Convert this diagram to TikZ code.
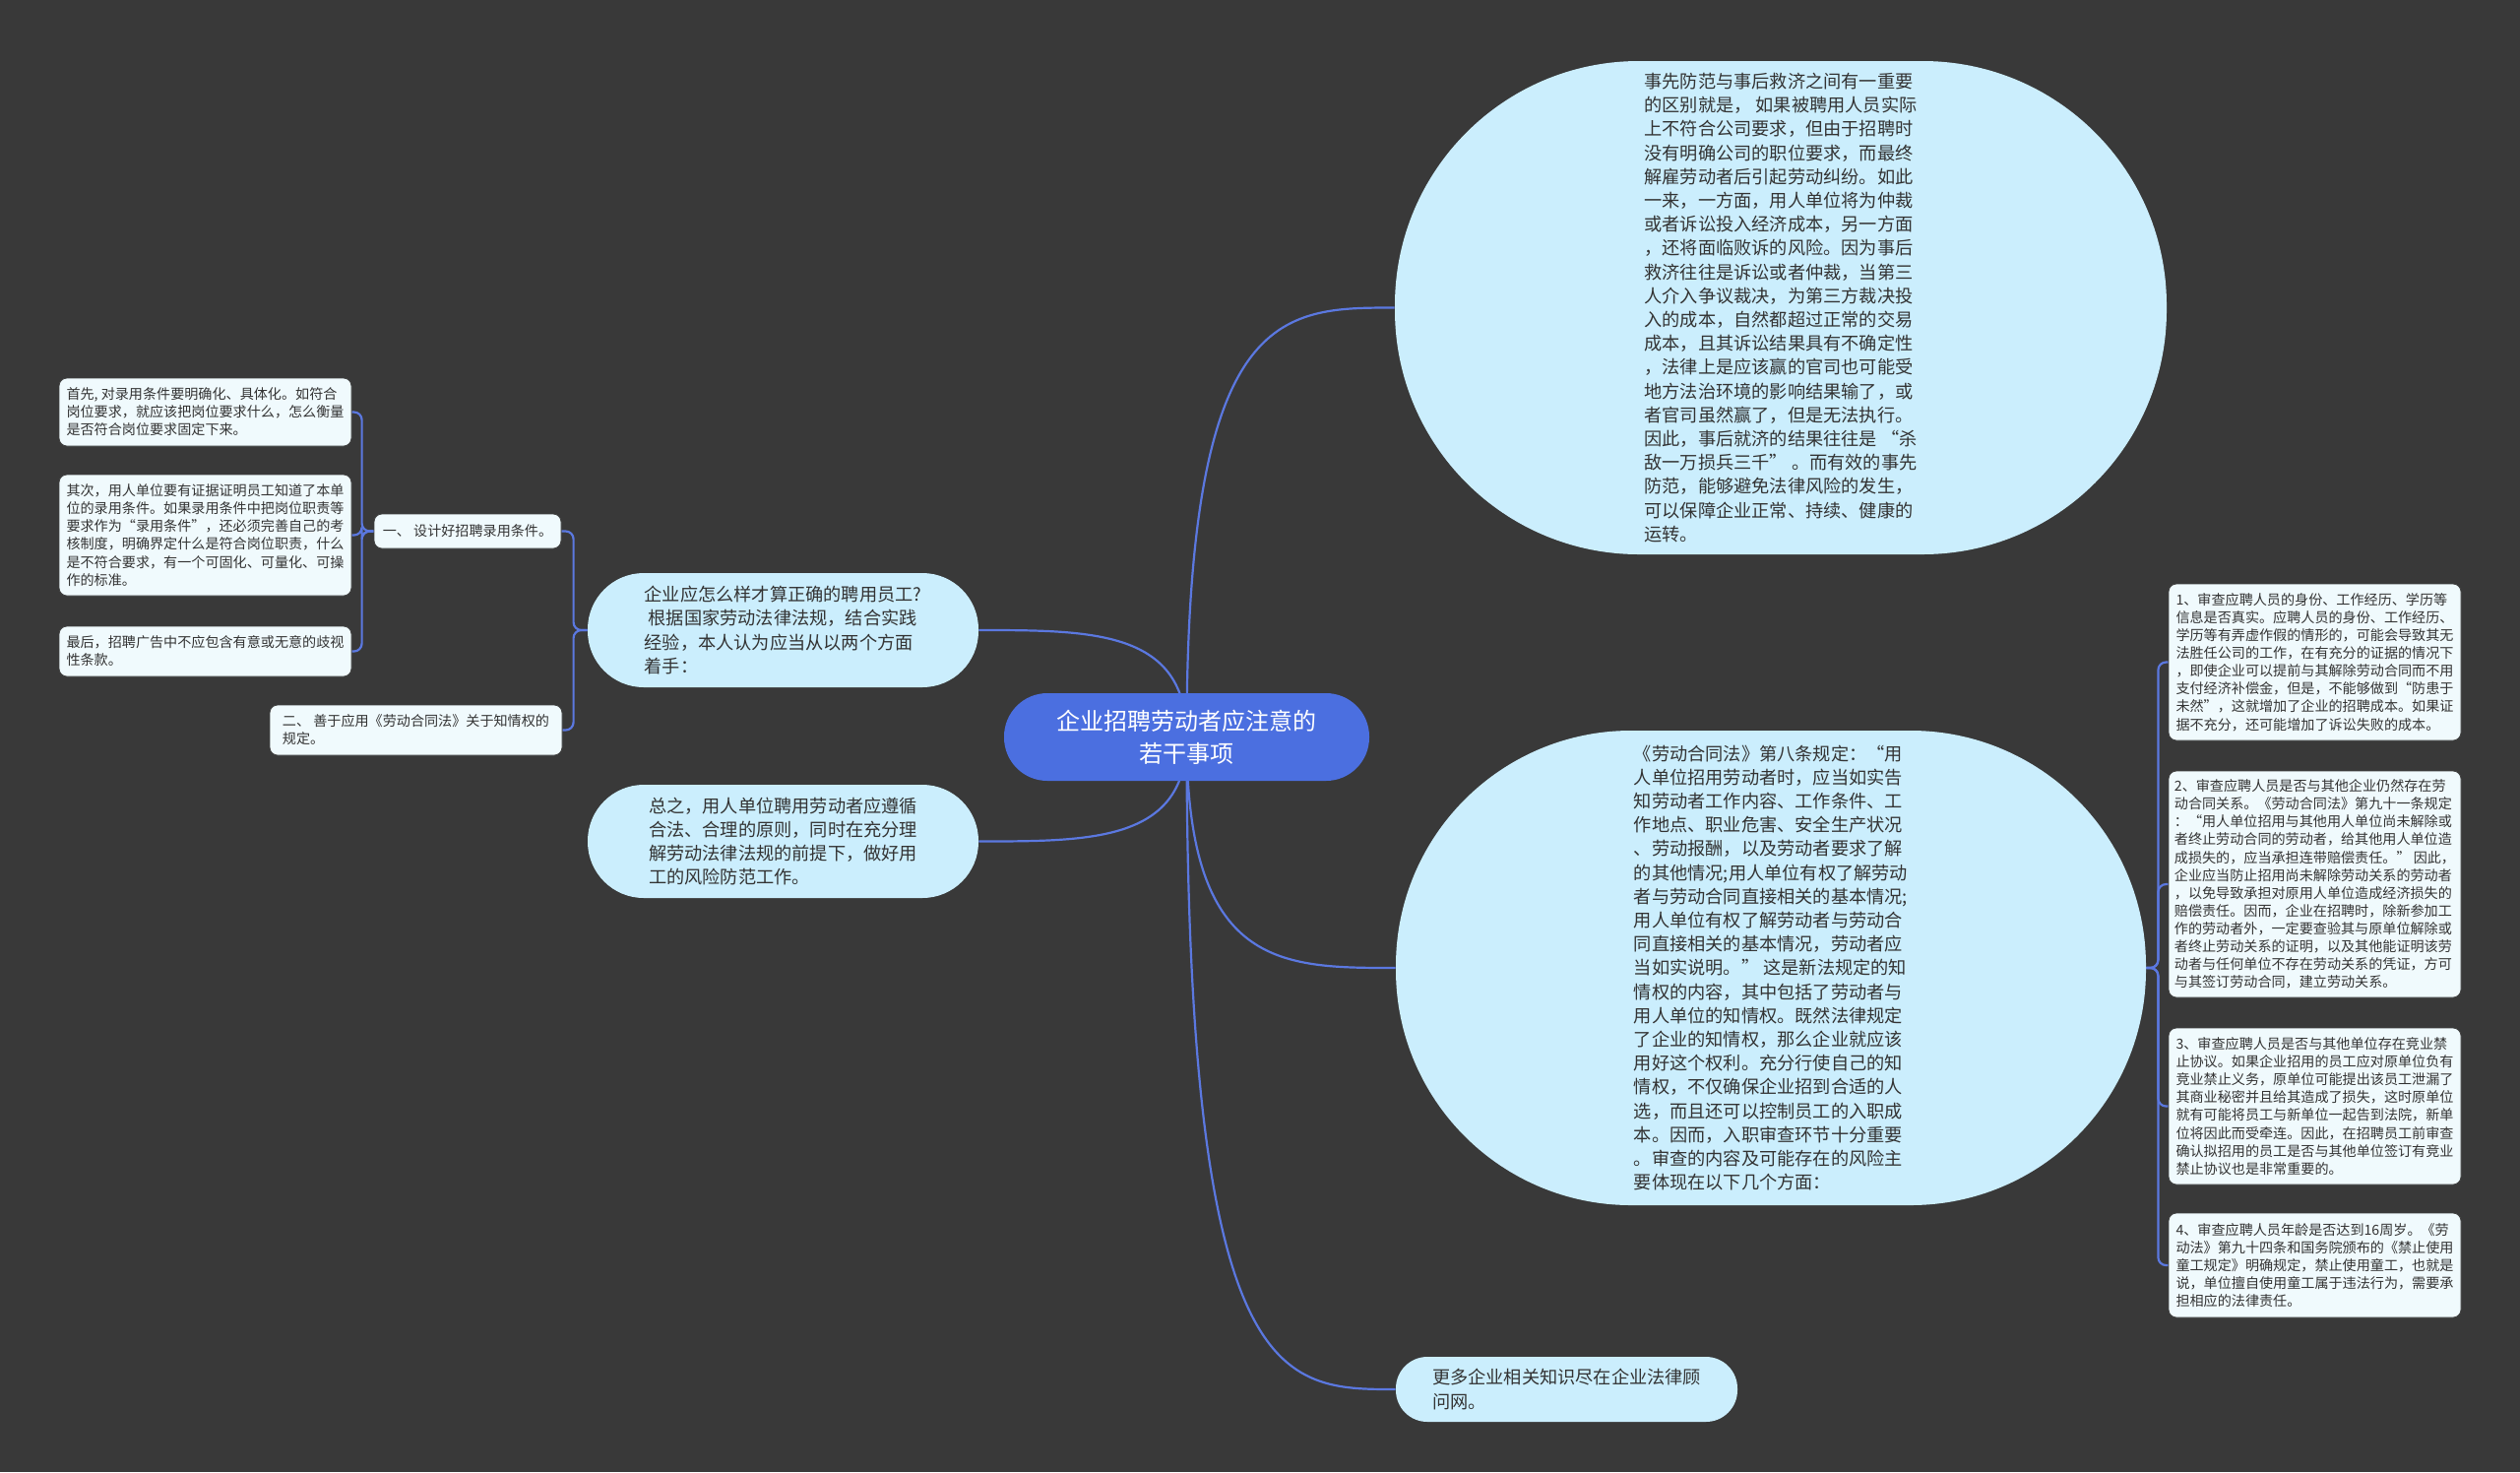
\documentclass[tikz,border=0pt]{standalone}
\usepackage{fontspec}
\usepackage{tikz}
\usetikzlibrary{calc,backgrounds}
\newfontfamily\cjk{Noto Sans CJK SC}
\definecolor{Canvas}{HTML}{393939}
\definecolor{RootBlue}{HTML}{4B6FE0}
\definecolor{Bubble}{HTML}{CBEEFD}
\definecolor{Card}{HTML}{F0FAFD}
\definecolor{Wire}{HTML}{5B78E0}
\definecolor{Ink}{HTML}{333333}

\begin{document}
\begin{tikzpicture}[x=0.5pt, y=-0.5pt,
    bigtext/.style={font=\cjk\fontsize{9.1pt}{12.1pt}\selectfont, text=Ink, align=left, inner sep=0pt},
    smalltext/.style={font=\cjk\fontsize{7.05pt}{9.05pt}\selectfont, text=Ink, align=left, inner sep=0pt},
    bubble/.style={bigtext, fill=Bubble},
    card/.style={smalltext, fill=Card, draw=black!75, line width=0.4pt, rounded corners=4pt},
    branch/.style={draw=Wire, line width=1.1pt}]
    \useasboundingbox (0,0) rectangle (2560,1495);

    % central topic
    \node[fill=RootBlue, text=white, font=\cjk\fontsize{12pt}{16.5pt}\selectfont, align=center,
      minimum width=185.5pt, minimum height=44.5pt, rounded corners=22pt, inner sep=0pt] (root) at (1205.5,748.5)
      {企业招聘劳动者应注意的\\若干事项};

    % right side
    \node[bubble, minimum width=392pt, minimum height=250.5pt, rounded corners=124pt] (prevent) at (1809,312.5) {%
      事先防范与事后救济之间有一重要\\的区别就是，\ 如果被聘用人员实际\\上不符合公司要求，但由于招聘时\\没有明确公司的职位要求，而最终\\解雇劳动者后引起劳动纠纷。如此\\一来，一方面，用人单位将为仲裁\\或者诉讼投入经济成本，另一方面\\，还将面临败诉的风险。因为事后\\救济往往是诉讼或者仲裁，当第三\\人介入争议裁决，为第三方裁决投\\入的成本，自然都超过正常的交易\\成本，且其诉讼结果具有不确定性\\，法律上是应该赢的官司也可能受\\地方法治环境的影响结果输了，或\\者官司虽然赢了，但是无法执行。\\因此，事后就济的结果往往是\ “杀\\敌一万损兵三千”\ 。而有效的事先\\防范，能够避免法律风险的发生，\\可以保障企业正常、持续、健康的\\运转。};
    \node[bubble, minimum width=381pt, minimum height=241pt, rounded corners=119.5pt] (law) at (1799,983) {%
      《劳动合同法》第八条规定：“用\\人单位招用劳动者时，应当如实告\\知劳动者工作内容、工作条件、工\\作地点、职业危害、安全生产状况\\、劳动报酬，以及劳动者要求了解\\的其他情况;用人单位有权了解劳动\\者与劳动合同直接相关的基本情况;\\用人单位有权了解劳动者与劳动合\\同直接相关的基本情况，劳动者应\\当如实说明。”\ 这是新法规定的知\\情权的内容，其中包括了劳动者与\\用人单位的知情权。既然法律规定\\了企业的知情权，那么企业就应该\\用好这个权利。充分行使自己的知\\情权，不仅确保企业招到合适的人\\选，而且还可以控制员工的入职成\\本。因而，入职审查环节十分重要\\。审查的内容及可能存在的风险主\\要体现在以下几个方面：};
    \node[bubble, minimum width=173.5pt, minimum height=33pt, rounded corners=16pt] (more) at (1591.5,1411) {%
      更多企业相关知识尽在企业法律顾\\问网。};

    \node[card, minimum width=148.5pt, minimum height=79.5pt] (item1) at (2351.5,672.5) {%
      1、审查应聘人员的身份、工作经历、学历等\\信息是否真实。应聘人员的身份、工作经历、\\学历等有弄虚作假的情形的，可能会导致其无\\法胜任公司的工作，在有充分的证据的情况下\\，即使企业可以提前与其解除劳动合同而不用\\支付经济补偿金，但是，不能够做到“防患于\\未然”，这就增加了企业的招聘成本。如果证\\据不充分，还可能增加了诉讼失败的成本。};
    \node[card, minimum width=148.5pt, minimum height=115pt] (item2) at (2351.5,898) {%
      2、审查应聘人员是否与其他企业仍然存在劳\\动合同关系。《劳动合同法》第九十一条规定\\：“用人单位招用与其他用人单位尚未解除或\\者终止劳动合同的劳动者，给其他用人单位造\\成损失的，应当承担连带赔偿责任。”\ 因此，\\企业应当防止招用尚未解除劳动关系的劳动者\\，以免导致承担对原用人单位造成经济损失的\\赔偿责任。因而，企业在招聘时，除新参加工\\作的劳动者外，一定要查验其与原单位解除或\\者终止劳动关系的证明，以及其他能证明该劳\\动者与任何单位不存在劳动关系的凭证，方可\\与其签订劳动合同，建立劳动关系。};
    \node[card, minimum width=148.5pt, minimum height=79.5pt] (item3) at (2351.5,1123.5) {%
      3、审查应聘人员是否与其他单位存在竞业禁\\止协议。如果企业招用的员工应对原单位负有\\竞业禁止义务，原单位可能提出该员工泄漏了\\其商业秘密并且给其造成了损失，这时原单位\\就有可能将员工与新单位一起告到法院，新单\\位将因此而受牵连。因此，在招聘员工前审查\\确认拟招用的员工是否与其他单位签订有竞业\\禁止协议也是非常重要的。};
    \node[card, minimum width=148.5pt, minimum height=53pt] (item4) at (2351.5,1285) {%
      4、审查应聘人员年龄是否达到16周岁。《劳\\动法》第九十四条和国务院颁布的《禁止使用\\童工规定》明确规定，禁止使用童工，也就是\\说，单位擅自使用童工属于违法行为，需要承\\担相应的法律责任。};

    % left side
    \node[bubble, minimum width=198.5pt, minimum height=58pt, rounded corners=28.5pt] (how) at (795.5,640) {%
      企业应怎么样才算正确的聘用员工?\\\ 根据国家劳动法律法规，结合实践\\经验，本人认为应当从以两个方面\\着手：};
    \node[bubble, minimum width=198.5pt, minimum height=57.5pt, rounded corners=28.5pt] (sum) at (795.5,854.5) {%
      总之，用人单位聘用劳动者应遵循\\合法、合理的原则，同时在充分理\\解劳动法律法规的前提下，做好用\\工的风险防范工作。};

    \node[card, minimum width=95pt, minimum height=17.5pt] (design) at (475,539.5) {一、\ 设计好招聘录用条件。};
    \node[card, minimum width=148.5pt, minimum height=25.5pt] (knowright) at (422.5,741.5) {%
      二、\ 善于应用《劳动合同法》关于知情权的\\规定。};

    \node[card, minimum width=148.5pt, minimum height=34.5pt] (first) at (208.5,418.5) {%
      首先, 对录用条件要明确化、具体化。如符合\\岗位要求，就应该把岗位要求什么，怎么衡量\\是否符合岗位要求固定下来。};
    \node[card, minimum width=148.5pt, minimum height=61.5pt] (second) at (208.5,543.5) {%
      其次，用人单位要有证据证明员工知道了本单\\位的录用条件。如果录用条件中把岗位职责等\\要求作为“录用条件”，还必须完善自己的考\\核制度，明确界定什么是符合岗位职责，什么\\是不符合要求，有一个可固化、可量化、可操\\作的标准。};
    \node[card, minimum width=148.5pt, minimum height=25.5pt] (last) at (208.5,661.5) {%
      最后，招聘广告中不应包含有意或无意的歧视\\性条款。};

    \begin{scope}[on background layer]
      \fill[Canvas] (0,0) rectangle (2560,1495);
      % curved branches from the central topic
      \draw[branch] (root.center) .. controls (root.center |- prevent.west) and ($(root.center |- prevent.west)!0.45!(prevent.west)$) .. (prevent.west);
      \draw[branch] (root.center) .. controls (root.center |- law.west) and ($(root.center |- law.west)!0.45!(law.west)$) .. (law.west);
      \draw[branch] (root.center) .. controls (root.center |- more.west) and ($(root.center |- more.west)!0.45!(more.west)$) .. (more.west);
      \draw[branch] (root.center) .. controls (root.center |- how.east) and ($(root.center |- how.east)!0.45!(how.east)$) .. (how.east);
      \draw[branch] (root.center) .. controls (root.center |- sum.east) and ($(root.center |- sum.east)!0.45!(sum.east)$) .. (sum.east);
      % elbow branches
      \draw[branch, rounded corners=4pt] (law.east) -- ++(6pt,0) |- (item1.west);
      \draw[branch, rounded corners=4pt] (law.east) -- ++(6pt,0) |- (item2.west);
      \draw[branch, rounded corners=4pt] (law.east) -- ++(6pt,0) |- (item3.west);
      \draw[branch, rounded corners=4pt] (law.east) -- ++(6pt,0) |- (item4.west);
      \draw[branch, rounded corners=4pt] (how.west) -- ++(-7pt,0) |- (design.east);
      \draw[branch, rounded corners=4pt] (how.west) -- ++(-7pt,0) |- (knowright.east);
      \draw[branch, rounded corners=4pt] (design.west) -- ++(-6pt,0) |- (first.east);
      \draw[branch, rounded corners=4pt] (design.west) -- ++(-6pt,0) |- (second.east);
      \draw[branch, rounded corners=4pt] (design.west) -- ++(-6pt,0) |- (last.east);
    \end{scope}
\end{tikzpicture}
\end{document}
